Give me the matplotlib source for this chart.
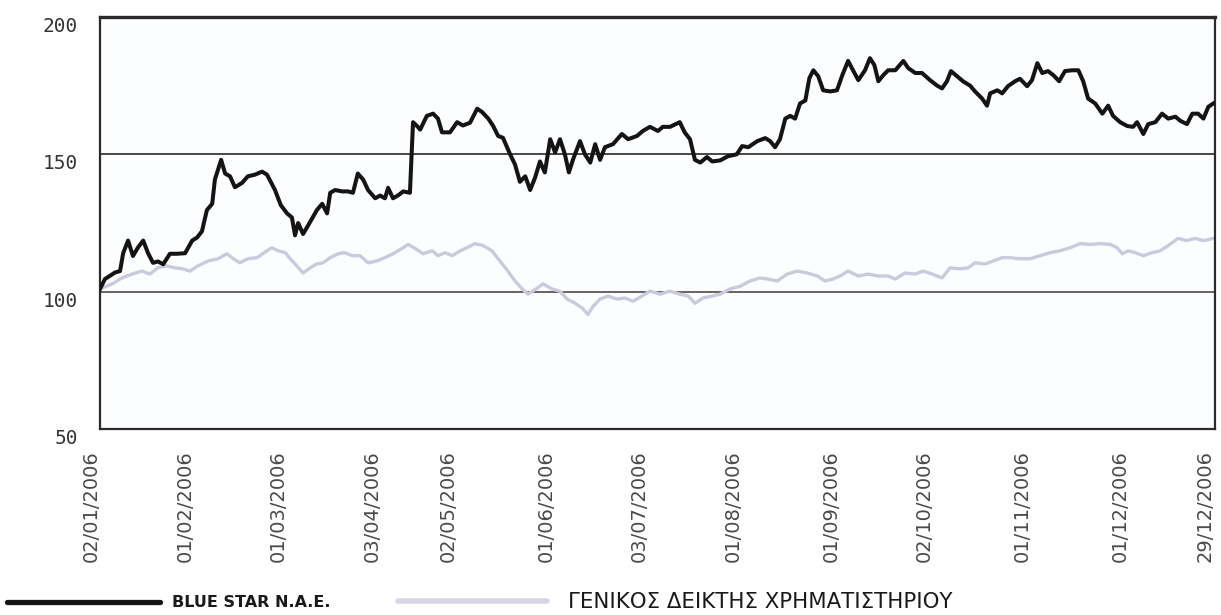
import matplotlib
matplotlib.use("Agg")
import matplotlib.pyplot as plt
from matplotlib.lines import Line2D
from matplotlib.transforms import ScaledTranslation

# x = trading-session index since 02/01/2006
BLUE_DAY = [0, 1.1, 3.4, 4.5, 5.2, 6.3, 7.4, 8.5, 9.7, 10.8, 11.9, 13.0, 14.2, 15.7, 17.3,
            19.1, 20.7, 21.8, 22.9, 24.0, 25.2, 25.8, 27.2, 28.1, 29.2, 30.3, 31.9, 33.2,
            34.8, 36.4, 37.5, 39.3, 40.6, 42.0, 43.1, 43.8, 44.5, 45.6, 46.7, 48.7, 49.9,
            51.0, 51.7, 52.8, 54.4, 55.7, 56.8, 57.9, 59.1, 60.2, 61.8, 62.9, 64.0, 64.7,
            65.8, 66.9, 68.1, 69.6, 70.3, 71.2, 71.9, 73.4, 74.8, 75.9, 76.8, 78.6, 80.2,
            81.5, 83.1, 84.7, 85.8, 87.2, 88.3, 89.4, 90.5, 92.1, 93.2, 94.3, 95.5, 96.6,
            97.7, 98.8, 99.9, 101.1, 102.2, 103.3, 104.4, 105.3, 106.2, 107.8, 108.9, 110.1,
            111.2, 112.3, 113.4, 115.2, 117.2, 118.6, 120.6, 121.9, 123.5, 125.3, 126.4,
            128.0, 130.2, 131.3, 132.5, 133.6, 134.8, 136.3, 137.5, 139.3, 141.0, 143.0,
            144.2, 145.6, 147.6, 149.4, 150.5, 151.6, 152.7, 153.9, 155.0, 156.1, 157.2,
            158.4, 159.3, 160.2, 161.3, 162.4, 164.0, 165.5, 166.7, 168.0, 169.1, 170.3,
            171.8, 172.9, 173.9, 174.8, 175.9, 177.0, 178.6, 180.4, 181.5, 183.1, 184.6,
            186.4, 188.0, 189.1, 190.2, 191.1, 192.5, 193.8, 195.4, 196.5, 198.1, 199.2,
            199.9, 201.5, 202.6, 203.9, 205.5, 206.6, 208.2, 209.3, 210.5, 211.6, 212.9,
            214.1, 215.4, 216.7, 218.3, 219.7, 220.8, 221.9, 223.5, 225.1, 226.4, 227.5,
            229.1, 230.7, 232.0, 232.9, 234.3, 235.4, 237.0, 238.5, 239.9, 241.5, 242.6,
            244.1, 245.3, 246.6, 247.8, 248.9, 250.0]
BLUE_VAL = [101, 104.6, 107, 107.5, 114, 118.6, 113, 116, 118.6, 114, 110.5, 111, 110, 113.8,
            113.8, 114, 118.6, 119.7, 122, 129.7, 132, 140.8, 148, 143, 142, 138, 139.6, 142,
            142.6, 143.7, 142.6, 137, 131.5, 128.5, 127, 120.5, 125, 121, 124, 129.7, 132,
            128.5, 136, 137, 136.5, 136.5, 136, 143, 140.8, 137, 134, 135, 134, 137.8,
            134, 135, 136.5, 136, 161.7, 160.3, 159, 164, 164.8, 163, 158, 158, 161.7,
            160.5, 161.5, 166.6, 165.4, 163, 160.3, 156.7, 156, 150, 146.3, 140, 142, 137,
            141.5, 147.4, 143.4, 155.5, 150.7, 155.5, 150, 143.4, 148, 154.8, 150, 147,
            153.7, 148, 152.6, 153.7, 157.4, 155.5, 156.7, 158.5, 160, 158.5, 160,
            160, 161.7, 158, 155.5, 148, 147, 149, 147.4, 147.8, 149.3, 150,
            153, 152.6, 154.8, 155.9, 154.8, 152.6, 155.5, 163, 164, 163, 168.5,
            169.6, 177.7, 180.6, 178.4, 173.3, 172.9, 173.3, 178.8, 184, 180.6, 177,
            180.6, 185, 182.5, 176.6, 178.8, 180.6, 180.6, 184, 181.4, 179.6, 179.6,
            177, 175, 174, 176.6, 180.3, 178.4, 176.6, 175, 172.9, 170.3, 167.7,
            172.2, 173.3, 172.2, 174.8, 176.6, 177.5, 174.8, 177, 183.2, 179.6, 180.3,
            178.8, 176.6, 180.3, 180.6, 180.6, 176.6, 170.3, 168.5, 164.8, 167.7, 164,
            161.7, 160.3, 160, 161.7, 157.4, 161, 161.7, 164.8, 163, 163.7, 162.2,
            161, 164.8, 164.8, 163, 167.3, 168.5]

INDEX_DAY = [0, 2.7, 4.9, 7.2, 9.4, 11.2, 13.0, 15.0, 16.8, 18.6, 20.2, 22.0, 24.3, 26.5,
             28.5, 29.6, 31.4, 33.2, 35.3, 37.5, 38.6, 40.0, 41.6, 42.7, 44.2, 45.6, 47.2,
             48.7, 50.1, 51.7, 53.5, 55.0, 56.6, 58.4, 60.2, 62.2, 64.0, 65.8, 67.8, 69.2,
             70.8, 72.6, 74.6, 75.9, 77.5, 79.1, 80.9, 82.4, 84.2, 86.0, 88.0, 89.8, 91.6,
             93.2, 94.8, 96.1, 98.2, 99.5, 101.5, 103.3, 104.9, 106.7, 108.3, 109.6, 110.7,
             112.3, 114.1, 116.1, 117.9, 119.7, 121.7, 123.5, 125.8, 128.0, 130.2, 132.1,
             133.6, 135.4, 137.5, 139.3, 141.5, 143.8, 146.0, 148.2, 150.0, 152.1, 154.3,
             156.6, 158.8, 161.1, 162.8, 164.6, 166.2, 168.0, 170.3, 172.5, 174.8, 177.0,
             178.6, 180.8, 183.1, 184.8, 186.9, 189.1, 190.9, 193.2, 195.0, 196.5, 198.8,
             200.6, 202.6, 204.4, 206.2, 208.9, 211.1, 213.4, 215.6, 217.9, 220.1, 222.4,
             224.6, 226.9, 228.4, 229.6, 230.9, 232.5, 234.3, 236.3, 238.1, 239.9, 242.1,
             244.1, 245.9, 247.8, 250.0]
INDEX_VAL = [101, 102.8, 105, 106.4, 107.5, 106.4, 108.7, 109.4, 108.7, 108.3, 107.5, 109.4,
             111.2, 112, 113.8, 112.4, 110.5, 112, 112.4, 114.9, 116, 114.9, 114.2, 112,
             109.4, 106.8, 108.7, 110.1, 110.5, 112.4, 113.8, 114.2, 113.1, 113.1, 110.5,
             111.2, 112.4, 113.8, 115.7, 117.2, 115.7, 113.8, 114.9, 113.1, 114.2, 113.1,
             114.9, 116, 117.5, 116.8, 114.9, 111.2, 107.5, 103.9, 101, 99.1, 101.3, 102.8,
             101, 100.2, 97.3, 95.8, 94, 91.7, 94.6, 97.3, 98.4, 97.3, 97.7, 96.5, 98.4,
             100.2, 99.1, 100.2, 99.1, 98.4, 95.8, 97.7, 98.4, 99.1, 101, 102, 103.9, 105,
             104.6, 103.9, 106.4, 107.5, 106.8, 105.7, 103.9, 104.6, 105.7, 107.5, 105.7,
             106.4, 105.7, 105.7, 104.6, 106.8, 106.4, 107.5, 106.4, 105, 108.7, 108.3,
             108.7, 110.5, 110.1, 111.2, 112.4, 112.4, 112, 112, 113.1, 114.2, 114.9, 116,
             117.5, 117.2, 117.5, 117.2, 116, 113.8, 114.9, 114.2, 113.1, 114.2, 114.9,
             116.8, 119.4, 118.6, 119.4, 118.6, 119.4]

TICK_DAY = [0, 21, 42, 63, 80, 102, 123, 144, 166, 187, 209, 231, 250]
TICK_LABELS = ["02/01/2006", "01/02/2006", "01/03/2006", "03/04/2006", "02/05/2006",
               "01/06/2006", "03/07/2006", "01/08/2006", "01/09/2006", "02/10/2006",
               "01/11/2006", "01/12/2006", "29/12/2006"]
Y_TICKS = [50, 100, 150, 200]
SERIES_NAMES = ["BLUE STAR N.A.E.", "ΓΕΝΙΚΟΣ ΔΕΙΚΤΗΣ ΧΡΗΜΑΤΙΣΤΗΡΙΟΥ"]

BLACK = "#141414"
LAVENDER = "#cbc9dc"

fig = plt.figure(figsize=(12.21, 6.15), dpi=100, facecolor="white")
ax = fig.add_axes([0.0819, 0.3024, 0.9132, 0.670])
ax.set_facecolor("#fcfdff")

ax.axhline(100, color="#3a3a3a", lw=1.1, zorder=1)
ax.axhline(150, color="#3a3a3a", lw=1.3, zorder=1)

ax.plot(INDEX_DAY, INDEX_VAL, color=LAVENDER, lw=2.4, zorder=2, solid_joinstyle="round")
ax.plot(BLUE_DAY, BLUE_VAL, color=BLACK, lw=2.9, zorder=3, solid_joinstyle="round")

ax.set_xlim(0, 250.4)
ax.set_ylim(50, 200)

for side in ["left", "right", "bottom"]:
    ax.spines[side].set_color("#2a2a2a")
    ax.spines[side].set_linewidth(1.6)
ax.spines["top"].set_color("#2a2a2a")
ax.spines["top"].set_linewidth(2.4)

ax.set_yticks(Y_TICKS)
ax.set_yticklabels([str(v) for v in Y_TICKS], family="DejaVu Sans Mono", fontsize=14,
                   color="#333333", va="top")
ax.tick_params(axis="y", length=0, pad=16)

ax.set_xticks(TICK_DAY)
ax.set_xticklabels(TICK_LABELS, rotation=90, fontsize=14, color="#4a4a4a",
                   ha="center", va="top")
ax.tick_params(axis="x", length=0, pad=15)
shift = ScaledTranslation(-6 / 72, 0, fig.dpi_scale_trans)
for lab in ax.get_xticklabels():
    lab.set_transform(lab.get_transform() + shift)

# legend drawn under the axes
fig.add_artist(Line2D([0.006, 0.131], [0.021, 0.021], color=BLACK, lw=3.8,
                      solid_capstyle="round"))
fig.text(0.141, 0.021, SERIES_NAMES[0], family="DejaVu Sans",
         fontweight="bold", fontsize=11.5, color="#1a1a1a", va="center", ha="left")
fig.add_artist(Line2D([0.326, 0.448], [0.022, 0.022], color="#d6d6e4", lw=4.0,
                      solid_capstyle="round"))
fig.text(0.465, 0.021, SERIES_NAMES[1], family="DejaVu Sans",
         fontsize=15.3, color="#1a1a1a", va="center", ha="left")

fig.savefig("out.png", dpi=100, facecolor="white")
